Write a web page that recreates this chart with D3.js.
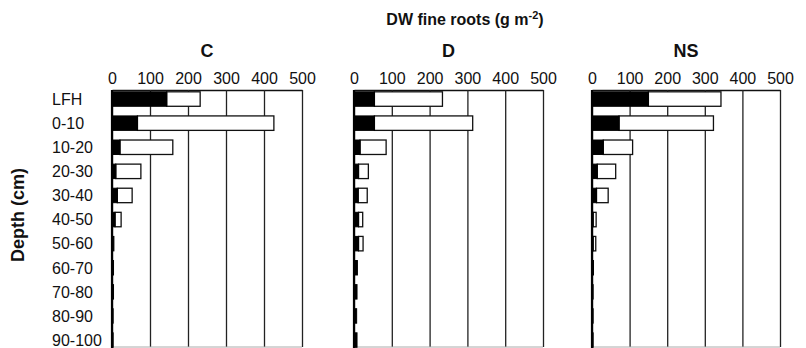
<!DOCTYPE html>
<html>
<head>
<meta charset="utf-8">
<script src="https://cdn.jsdelivr.net/npm/d3@7"></script>
<style>
  html, body { margin: 0; padding: 0; background: #fff; }
  svg { display: block; }
  text { font-family: "Liberation Sans", Arial, Helvetica, sans-serif; fill: #111; }
</style>
</head>
<body>
<script>
// ---- data ----
const categories = ["LFH", "0-10", "10-20", "20-30", "30-40", "40-50", "50-60", "60-70", "70-80", "80-90", "90-100"];
const tickValues = [0, 100, 200, 300, 400, 500];
const panelNames = ["C", "D", "NS"];
// black segment (left part) and total bar length, g m-2
const blackC  = [144, 67, 21, 10, 14, 8, 5, 4, 4, 3, 3];
const totalC  = [232, 426, 160, 76, 53, 24, 5, 4, 4, 3, 3];
const blackD  = [54, 54, 16, 12, 11, 12, 12, 9, 8, 7, 8];
const totalD  = [234, 314, 85, 38, 35, 23, 24, 9, 8, 7, 8];
const blackNS = [150, 72, 30, 14, 12, 3, 3, 4, 3, 3, 3];
const totalNS = [343, 323, 108, 63, 43, 11, 10, 4, 3, 3, 3];
const title = "DW fine roots (g m";
const titleSup = "-2";
const yTitle = "Depth (cm)";

// ---- layout ----
const W = 806, H = 348;
const frameTop = 90, frameBottom = 347;
const panelRanges = [[112, 302], [354, 543], [592, 780]];
const seriesBlack = [blackC, blackD, blackNS];
const seriesTotal = [totalC, totalD, totalNS];

const svg = d3.select("body").append("svg").attr("width", W).attr("height", H);

const y = d3.scaleBand().domain(categories).range([87, 87 + 11 * 24.1]).paddingInner(0.4).paddingOuter(0.2);

// main title
const t = svg.append("text").attr("x", 465).attr("y", 25).attr("text-anchor", "middle")
  .style("font-size", "16px").style("font-weight", "bold");
t.append("tspan").text(title);
t.append("tspan").attr("dy", -6).style("font-size", "11px").text(titleSup);
t.append("tspan").attr("dy", 6).text(")");

// y title
svg.append("text").attr("transform", "translate(24,215) rotate(-90)").attr("text-anchor", "middle")
  .style("font-size", "18px").style("font-weight", "bold").text(yTitle);

// category labels
svg.append("g").selectAll("text").data(categories).join("text")
  .attr("x", 52).attr("y", d => y(d) + y.bandwidth() / 2).attr("dy", "0.36em")
  .style("font-size", "16px").text(d => d);

panelNames.forEach((name, i) => {
  const x = d3.scaleLinear().domain([0, 500]).range(panelRanges[i]);
  const g = svg.append("g");

  // panel title
  g.append("text").attr("x", (panelRanges[i][0] + panelRanges[i][1]) / 2).attr("y", 57)
    .attr("text-anchor", "middle").style("font-size", "18px").style("font-weight", "bold").text(name);

  // axis (top) with gridlines
  const ax = g.append("g").attr("transform", `translate(0,${frameTop})`)
    .call(d3.axisTop(x).tickValues(tickValues).tickSizeInner(-(frameBottom - frameTop)).tickSizeOuter(0).tickPadding(6));
  ax.select(".domain").attr("stroke", "#111").attr("stroke-width", 1.4);
  ax.selectAll(".tick line").attr("stroke", "#222").attr("stroke-width", 1.3);
  ax.selectAll(".tick text").attr("y", -6).style("font-size", "16px")
    .style("font-family", '"Liberation Sans", Arial, sans-serif').attr("fill", "#111");

  // bottom frame line (faint)
  g.append("line").attr("x1", x(0)).attr("x2", x(500)).attr("y1", frameBottom).attr("y2", frameBottom)
    .attr("stroke", "#aaa").attr("stroke-width", 1);

  const rows = categories.map((c, k) => ({ c, b: seriesBlack[i][k], t: seriesTotal[i][k] }));

  // white part
  g.append("g").selectAll("rect").data(rows.filter(r => r.t > r.b)).join("rect")
    .attr("x", r => x(r.b)).attr("y", r => y(r.c))
    .attr("width", r => x(r.t) - x(r.b)).attr("height", y.bandwidth())
    .attr("fill", "#fff").attr("stroke", "#111").attr("stroke-width", 1.3);

  // black part
  g.append("g").selectAll("rect").data(rows).join("rect")
    .attr("x", x(0)).attr("y", r => y(r.c))
    .attr("width", r => x(r.b) - x(0)).attr("height", y.bandwidth())
    .attr("fill", "#000").attr("stroke", "#000").attr("stroke-width", 1);

  // zero axis line
  g.append("line").attr("x1", x(0)).attr("x2", x(0)).attr("y1", frameTop).attr("y2", H + 5)
    .attr("stroke", "#000").attr("stroke-width", 2.2);
});
</script>
</body>
</html>
